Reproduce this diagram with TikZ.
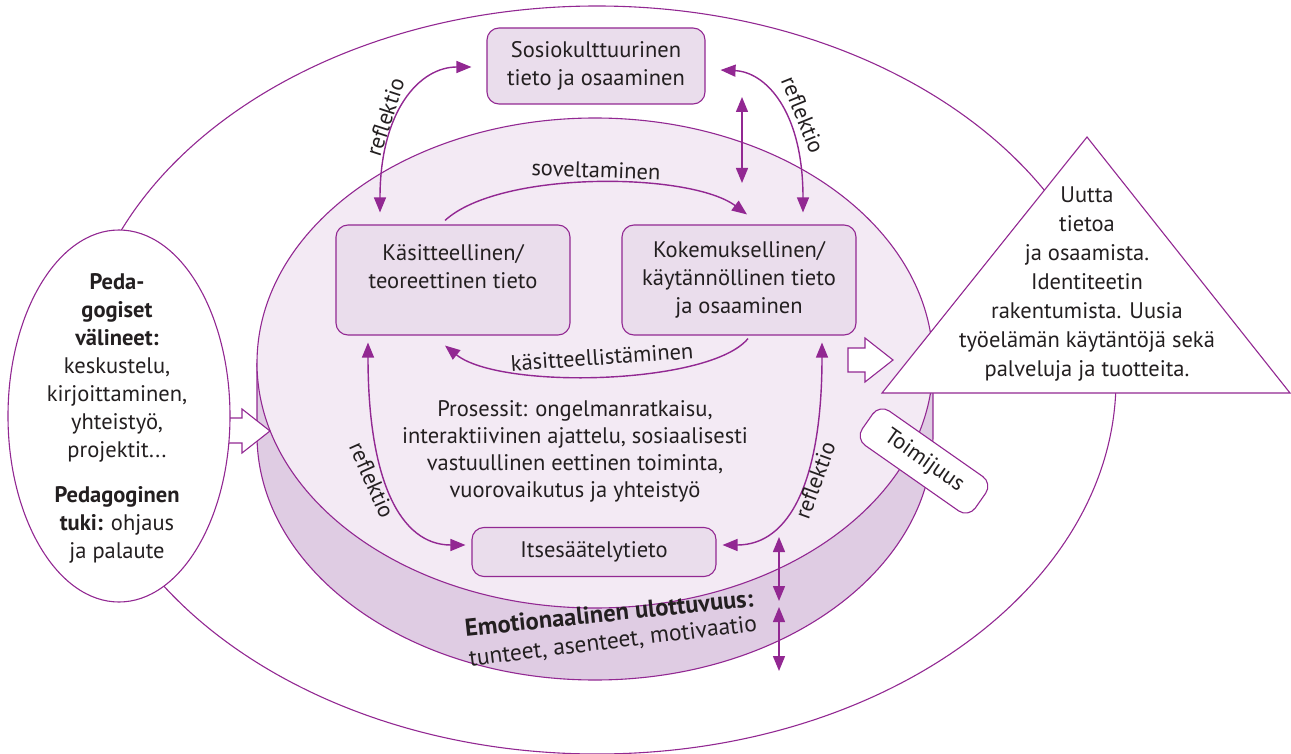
\documentclass[tikz,border=0pt]{standalone}
\usepackage{fontspec}
\setmainfont{PT Sans}
\usetikzlibrary{arrows.meta,calc,shapes.geometric}

\definecolor{purp}{RGB}{146,40,146}
\definecolor{diskfill}{RGB}{243,234,244}
\definecolor{bandfill}{RGB}{223,204,227}
\definecolor{boxfill}{RGB}{234,221,236}
\definecolor{ink}{RGB}{35,31,32}

\tikzset{
  txt/.style={text=ink, font=\fontsize{22.5}{28}\selectfont, align=center, inner sep=0pt},
  rim/.style={draw=purp, line width=1.1pt},
  kbox/.style={rim, fill=boxfill, rounded corners=12pt},
  dbl/.style={draw=purp, line width=1.4pt, {Triangle[length=15pt,width=12pt]}-{Triangle[length=15pt,width=12pt]}},
  one/.style={draw=purp, line width=1.4pt, -{Triangle[length=15pt,width=12pt]}},
}

\begin{document}
\begin{tikzpicture}[x=1pt, y=-1pt]
        \useasboundingbox (0,0) rectangle (1291,754);

        % Define radii
        \def\diskrx{338}
        \def\diskry{245}

        % Outer ellipse
        \draw[rim] (597,380) ellipse [x radius=519, y radius=374];

        % Disk with emotional band
        \fill[bandfill] (257,363) rectangle (933,435);
        \fill[bandfill] (595,435) ellipse [x radius=\diskrx, y radius=\diskry];
        \draw[rim] (257,363) -- (257,435) arc [start angle=180, end angle=0, x radius=\diskrx, y radius=\diskry] -- (933,363);
        \draw[rim, fill=diskfill] (595,363) ellipse [x radius=\diskrx, y radius=\diskry];

        % Knowledge boxes
        \node[kbox, txt, minimum width=218, minimum height=76] (sosio) at (596,66) {Sosiokulttuurinen\\tieto ja osaaminen};
        \node[kbox, txt, minimum width=234, minimum height=110] (kasit) at (453,280) {Käsitteellinen/\\teoreettinen tieto\\\phantom{x}};
        \node[kbox, txt, minimum width=234, minimum height=110] (koke) at (739,280) {Kokemuksellinen/\\käytännöllinen tieto\\ja osaaminen};
        \node[kbox, txt, minimum width=244, minimum height=49] (itse) at (594,552) {Itsesäätelytieto};

        \node[txt, font=\fontsize{22.5}{27}\selectfont] (proc) at (575,451) {Prosessit: ongelmanratkaisu,\\interaktiivinen ajattelu, sosiaalisesti\\vastuullinen eettinen toiminta,\\vuorovaikutus ja yhteistyö};

        % Arrows between boxes
        \draw[dbl] ($(kasit.north)+(-73,-12)$) .. controls (380,110) and (420,67) .. ($(sosio.west)+(-15,1)$);
        \draw[dbl] ($(koke.north)+(64,-12)$) .. controls (803,110) and (765,72) .. ($(sosio.east)+(15,4)$);
        \draw[one] ($(kasit.north)+(-8,-4)$) .. controls (500,170) and (690,172) .. ($(koke.north)+(8,-10)$);
        \draw[one] ($(koke.south)+(9,3)$) .. controls (710,385) and (500,390) .. ($(kasit.south)+(-8,10)$);
        \draw[dbl] ($(kasit.south)+(-85,7)$) .. controls (368,480) and (400,545) .. ($(itse.west)+(-6,-7)$);
        \draw[dbl] ($(koke.south)+(83,7)$) .. controls (822,480) and (790,545) .. ($(itse.east)+(6,-7)$);

        \coordinate (vtop) at (742,97);
        \coordinate (vbot) at (742,183);
        \draw[dbl] (vtop) -- (vbot);
        \coordinate (ea) at (779,537);
        \coordinate (eb) at (779,601);
        \coordinate (ec) at (779,607);
        \coordinate (ed) at (779,671);
        \draw[dbl] (ea) -- (eb);
        \draw[dbl] (ec) -- (ed);

        % Arrow labels
        \node[txt, rotate=72] (reflTL) at (385,117) {reflektio};
        \node[txt, rotate=-68] (reflTR) at (803,115) {reflektio};
        \node[txt, rotate=-66] (reflBL) at (372,480) {reflektio};
        \node[txt, rotate=70] (reflBR) at (815,480) {reflektio};
        \node[txt, rotate=-2] (sovel) at (596,170) {soveltaminen};
        \node[txt, rotate=4] (kasitt) at (602,357) {käsitteellistäminen};

        % Emotional dimension
        \node[txt, font=\fontsize{24.5}{28}\selectfont, rotate=6] (emo) at (609,613) {\bfseries Emotionaalinen ulottuvuus:};
        \node[txt, font=\fontsize{23.5}{28}\selectfont, rotate=7] (emoB) at (613,642) {tunteet, asenteet, motivaatio};

        % Hollow arrows
        \draw[rim, fill=white] (215,418) -- (242,418) -- (242,409) -- (270,431) -- (242,453) -- (242,443) -- (215,443) -- cycle;
        \draw[rim, fill=white] (848,348) -- (865,348) -- (865,338) -- (893,360) -- (865,382) -- (865,372) -- (848,372) -- cycle;

        % Pedagogical means
        \node[rim, fill=white, ellipse, inner sep=0pt, minimum width=222, minimum height=372] (peda) at (119,416) {};
        \node[txt] (pedatxt) at (117,418) {\textbf{Peda-}\\\textbf{gogiset}\\\textbf{välineet:}\\keskustelu,\\kirjoittaminen,\\yhteistyö,\\projektit...\\[17pt]\textbf{Pedagoginen}\\\textbf{tuki:} ohjaus\\ja palaute};

        % Outcome triangle
        \draw[rim, fill=white] (882,393) -- (1290,393) -- (1087,137) -- cycle;
        \node[txt, font=\fontsize{22.5}{29}\selectfont] (uutta) at (1087,284) {Uutta\\tietoa\\ja osaamista.\\Identiteetin\\rakentumista. Uusia\\työelämän käytäntöjä sekä\\palveluja ja tuotteita.};

        % Agency
        \node[rim, txt, fill=white, rounded corners=12pt, rotate=-35, minimum width=138, minimum height=42] (toim) at (924,461) {Toimijuus};
\end{tikzpicture}
\end{document}
